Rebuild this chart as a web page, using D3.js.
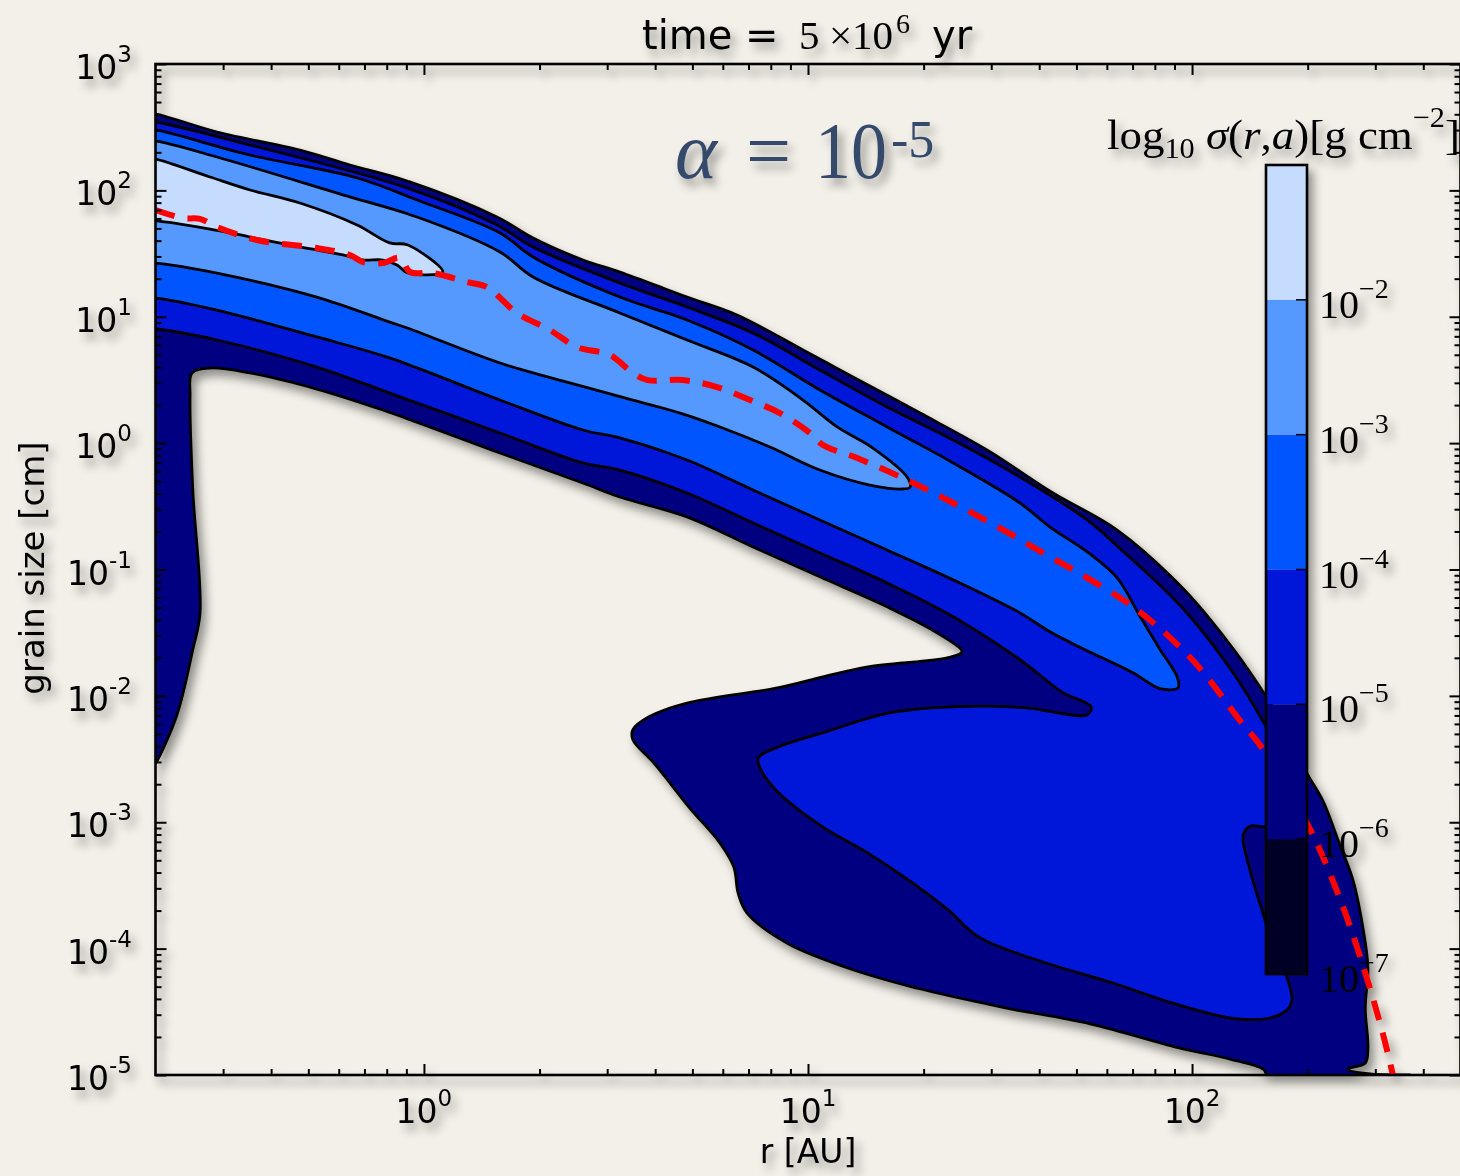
<!DOCTYPE html>
<html><head><meta charset="utf-8">
<script src="https://cdn.jsdelivr.net/npm/d3@7"></script>
<style>
body{margin:0;background:#f2efe8;}
svg{display:block;}
</style>
</head><body>
<svg id="chart" width="1460" height="1176"></svg>
<script>
// ---------------- DATA ----------------
// Contour levels of sigma(r,a) [g cm^-2] and their fill colours
const levels = [1e-7, 1e-6, 1e-5, 1e-4, 1e-3, 1e-2, 1e-1];
const levelColors = ["#000028", "#000080", "#0014d8", "#0055ff", "#5599ff", "#c6dcfe"];
const colorbarTickValues = [1e-7, 1e-6, 1e-5, 1e-4, 1e-3, 1e-2];

// Axis ticks
const xMajorTicks = [1, 10, 100];
const xMinorTicks = [0.3,0.4,0.5,0.6,0.7,0.8,0.9, 2,3,4,5,6,7,8,9, 20,30,40,50,60,70,80,90, 200,300,400];
const yMajorTicks = [1e-5,1e-4,1e-3,1e-2,1e-1,1,10,100,1000];
const yMinorTicks = [];
[-5,-4,-3,-2,-1,0,1,2].forEach(e => { for (let m = 2; m <= 9; m++) yMinorTicks.push(m * Math.pow(10, e)); });

// Filled contour regions, points are [log10 r/AU, log10 a/cm]
const regionAbove1e6 = [[-0.699,2.604],[-0.539,2.462],[-0.323,2.319],[-0.193,2.201],[-0.044,2.074],[0.190,1.789],[0.284,1.623],[0.414,1.449],[0.510,1.354],[0.685,1.156],[0.815,1.014],[0.987,0.737],[1.117,0.523],[1.292,0.238],[1.466,-0.054],[1.638,-0.395],[1.805,-0.688],[1.977,-1.153],[2.107,-1.627],[2.193,-2.006],[2.255,-2.325],[2.299,-2.611],[2.341,-2.833],[2.385,-3.181],[2.419,-3.458],[2.445,-3.837],[2.458,-4.153],[2.451,-4.470],[2.458,-4.787],[2.451,-4.905],[2.404,-4.953],[2.464,-4.992],[2.568,-5.0],[2.198,-5.0],[2.185,-4.953],[2.099,-4.874],[1.969,-4.787],[1.737,-4.597],[1.505,-4.462],[1.273,-4.304],[1.096,-4.145],[0.945,-3.956],[0.841,-3.718],[0.818,-3.561],[0.807,-3.355],[0.771,-3.165],[0.690,-2.880],[0.599,-2.531],[0.544,-2.347],[0.544,-2.267],[0.586,-2.165],[0.690,-2.054],[0.924,-1.935],[1.039,-1.849],[1.156,-1.770],[1.365,-1.698],[1.401,-1.651],[1.336,-1.501],[1.206,-1.295],[1.031,-1.058],[0.857,-0.822],[0.685,-0.584],[0.510,-0.426],[0.414,-0.316],[0.198,-0.078],[-0.107,0.262],[-0.279,0.428],[-0.453,0.555],[-0.557,0.594],[-0.604,0.555],[-0.609,0.373],[-0.602,-0.363],[-0.583,-1.343],[-0.602,-1.635],[-0.643,-2.149],[-0.695,-2.515],[-0.699,-2.531],[-0.72,-2.531],[-0.72,2.604]];

const regionAbove1e5 = [[-0.699,2.541],[-0.453,2.359],[-0.044,2.019],[0.190,1.726],[0.284,1.552],[0.510,1.267],[0.685,1.077],[0.857,0.871],[1.031,0.578],[1.206,0.286],[1.378,0.025],[1.552,-0.268],[1.727,-0.608],[1.805,-0.814],[1.977,-1.311],[2.107,-1.817],[2.190,-2.228],[2.242,-2.507],[2.255,-2.825],[2.203,-3.031],[2.151,-3.031],[2.133,-3.102],[2.151,-3.379],[2.182,-3.694],[2.216,-4.011],[2.247,-4.225],[2.260,-4.407],[2.247,-4.486],[2.203,-4.549],[2.117,-4.557],[2.039,-4.509],[1.924,-4.407],[1.794,-4.272],[1.620,-4.114],[1.445,-3.909],[1.365,-3.694],[1.273,-3.482],[1.156,-3.244],[1.039,-3.039],[0.924,-2.769],[0.878,-2.587],[0.870,-2.492],[0.924,-2.402],[1.039,-2.291],[1.214,-2.133],[1.388,-2.085],[1.563,-2.093],[1.727,-2.149],[1.737,-2.085],[1.664,-1.975],[1.552,-1.714],[1.378,-1.374],[1.206,-1.106],[1.031,-0.869],[0.857,-0.632],[0.685,-0.395],[0.510,-0.213],[0.414,-0.157],[0.198,0.080],[-0.089,0.396],[-0.279,0.602],[-0.539,0.816],[-0.699,0.903],[-0.72,0.903],[-0.72,2.541]];

const regionAbove1e4 = [[-0.699,2.478],[-0.453,2.280],[-0.174,2.098],[-0.018,1.924],[0.198,1.663],[0.284,1.473],[0.510,1.156],[0.685,0.974],[0.857,0.737],[1.031,0.420],[1.206,0.128],[1.378,-0.157],[1.552,-0.474],[1.630,-0.664],[1.727,-0.861],[1.805,-1.066],[1.865,-1.374],[1.917,-1.635],[1.961,-1.849],[1.964,-1.935],[1.917,-1.943],[1.846,-1.817],[1.716,-1.627],[1.630,-1.493],[1.552,-1.343],[1.378,-1.082],[1.206,-0.845],[1.031,-0.608],[0.857,-0.371],[0.685,-0.134],[0.510,0.041],[0.414,0.104],[0.198,0.341],[-0.089,0.674],[-0.279,0.840],[-0.539,1.053],[-0.699,1.148],[-0.72,1.148],[-0.72,2.478]];

const regionAbove1e3 = [[-0.699,2.391],[-0.539,2.264],[-0.193,1.948],[-0.018,1.789],[0.198,1.512],[0.284,1.315],[0.510,1.030],[0.685,0.816],[0.857,0.602],[0.987,0.341],[1.076,0.128],[1.169,-0.039],[1.258,-0.268],[1.266,-0.348],[1.247,-0.363],[1.161,-0.332],[1.031,-0.213],[0.901,-0.031],[0.771,0.128],[0.667,0.238],[0.544,0.341],[0.372,0.483],[0.198,0.634],[-0.036,0.903],[-0.089,0.958],[-0.279,1.156],[-0.539,1.346],[-0.699,1.425],[-0.72,1.425],[-0.72,2.391]];

const regionAbove1e2 = [[-0.699,2.248],[-0.557,2.106],[-0.453,2.003],[-0.323,1.900],[-0.174,1.726],[-0.089,1.584],[-0.042,1.568],[0.049,1.354],[-0.042,1.346],[-0.070,1.410],[-0.107,1.449],[-0.159,1.449],[-0.211,1.489],[-0.323,1.552],[-0.453,1.631],[-0.557,1.694],[-0.699,1.758],[-0.72,1.758],[-0.72,2.248]];

// Red dashed curve, [log10 r/AU, log10 a/cm]
const driftLimit = [[-0.699,1.845],[-0.628,1.781],[-0.583,1.774],[-0.539,1.710],[-0.435,1.607],[-0.279,1.544],[-0.193,1.489],[-0.159,1.433],[-0.107,1.425],[-0.0625,1.465],[-0.036,1.354],[0.023,1.346],[0.112,1.275],[0.164,1.235],[0.242,1.030],[0.328,0.895],[0.398,0.761],[0.484,0.697],[0.544,0.555],[0.583,0.499],[0.674,0.499],[0.763,0.444],[0.849,0.341],[0.927,0.238],[1.005,0.080],[1.039,-0.015],[1.128,-0.118],[1.258,-0.292],[1.378,-0.474],[1.5,-0.672],[1.612,-0.869],[1.727,-1.066],[1.857,-1.319],[2.003,-1.722],[2.125,-2.196],[2.182,-2.410],[2.307,-3.054],[2.393,-3.670],[2.451,-4.193],[2.497,-4.676],[2.523,-5.0]];

const filledRegions = [
  {level: 1e-6, color: levelColors[1], pts: regionAbove1e6},
  {level: 1e-5, color: levelColors[2], pts: regionAbove1e5},
  {level: 1e-4, color: levelColors[3], pts: regionAbove1e4},
  {level: 1e-3, color: levelColors[4], pts: regionAbove1e3},
  {level: 1e-2, color: levelColors[5], pts: regionAbove1e2}
];

// ---------------- CHART ----------------
const svg = d3.select("#chart");
const L = 155.5, R = 1460.5, T = 64, B = 1075;
const x = d3.scaleLog().domain([0.2, 500]).range([L, R]);
const y = d3.scaleLog().domain([1e-5, 1e3]).range([B, T]);

const defs = svg.append("defs");
const f = defs.append("filter").attr("id", "shadow").attr("x", "-10%").attr("y", "-10%").attr("width", "130%").attr("height", "130%");
f.append("feDropShadow").attr("dx", 5).attr("dy", 7).attr("stdDeviation", 5)
  .attr("flood-color", "#000").attr("flood-opacity", 0.4);
defs.append("clipPath").attr("id", "plotclip").append("rect")
  .attr("x", L).attr("y", T).attr("width", R - L).attr("height", B - T);

svg.append("rect").attr("width", 1460).attr("height", 1176).attr("fill", "#f3f0e9");

const root = svg.append("g").attr("filter", "url(#shadow)");

const sans = "'DejaVu Sans', 'Bitstream Vera Sans', sans-serif";
const serif = "'Liberation Serif', 'DejaVu Serif', serif";

// contours
const plotG = root.append("g").attr("clip-path", "url(#plotclip)");
const poly = d3.line()
  .x(d => x(Math.pow(10, d[0])))
  .y(d => y(Math.pow(10, d[1])))
  .curve(d3.curveCatmullRomClosed.alpha(0.5));
plotG.selectAll("path.region").data(filledRegions).join("path")
  .attr("class", "region")
  .attr("d", d => poly(d.pts))
  .attr("fill", d => d.color)
  .attr("stroke", "#000").attr("stroke-width", 2.8).attr("stroke-linejoin", "round");

const line = d3.line()
  .x(d => x(Math.pow(10, d[0])))
  .y(d => y(Math.pow(10, d[1])))
  .curve(d3.curveCatmullRom.alpha(0.5));
plotG.append("path").attr("d", line(driftLimit))
  .attr("fill", "none").attr("stroke", "#ff0000").attr("stroke-width", 6)
  .attr("stroke-dasharray", "20,13");

// axes ticks (inward)
const axG = root.append("g");
function tickAxis(gen, vals, size, tx, ty) {
  const g = axG.append("g").attr("transform", `translate(${tx},${ty})`)
    .call(gen.tickValues(vals).tickSize(size).tickFormat(""));
  g.select(".domain").remove();
  g.selectAll(".tick line").attr("stroke", "#000").attr("stroke-width", 2);
}
tickAxis(d3.axisBottom(x), xMajorTicks, -11, 0, B);
tickAxis(d3.axisBottom(x), xMinorTicks, -6, 0, B);
tickAxis(d3.axisTop(x), xMajorTicks, -11, 0, T);
tickAxis(d3.axisTop(x), xMinorTicks, -6, 0, T);
tickAxis(d3.axisLeft(y), yMajorTicks, -11, L, 0);
tickAxis(d3.axisLeft(y), yMinorTicks, -6, L, 0);
tickAxis(d3.axisRight(y), yMajorTicks, -11, R, 0);
tickAxis(d3.axisRight(y), yMinorTicks, -6, R, 0);

axG.append("rect").attr("x", L).attr("y", T).attr("width", R - L).attr("height", B - T)
  .attr("fill", "none").attr("stroke", "#000").attr("stroke-width", 2.6);

// tick labels
const yl = root.append("g").attr("font-family", sans).attr("fill", "#000");
yMajorTicks.forEach(v => {
  const e = Math.round(Math.log10(v));
  const t = yl.append("text").attr("x", 132).attr("y", y(v) + 15)
    .attr("text-anchor", "end").attr("font-size", 33);
  t.append("tspan").text("10");
  t.append("tspan").attr("dy", -17).attr("font-size", 23).text(String(e));
});
xMajorTicks.forEach(v => {
  const e = Math.round(Math.log10(v));
  const t = yl.append("text").attr("x", x(v)).attr("y", 1123)
    .attr("text-anchor", "middle").attr("font-size", 33);
  t.append("tspan").text("10");
  t.append("tspan").attr("dy", -17).attr("font-size", 23).text(String(e));
});

// axis titles
yl.append("text").attr("x", 808).attr("y", 1163).attr("text-anchor", "middle")
  .attr("font-size", 33).text("r [AU]");
yl.append("text").attr("transform", "translate(44,568) rotate(-90)")
  .attr("text-anchor", "middle").attr("font-size", 34).text("grain size [cm]");

// title
const title = root.append("text").attr("y", 49).attr("font-size", 40).attr("fill", "#000");
title.append("tspan").attr("x", 642).attr("font-family", sans).text("time =");
title.append("tspan").attr("x", 799).attr("font-family", serif).attr("font-size", 41).text("5");
title.append("tspan").attr("x", 829).attr("font-family", serif).attr("font-size", 41).text("×10");
title.append("tspan").attr("x", 896).attr("y", 33).attr("font-family", serif).attr("font-size", 28).text("6");
title.append("tspan").attr("x", 932).attr("y", 49).attr("font-family", sans).text("yr");

// alpha annotation
const al = root.append("text").attr("y", 178).attr("fill", "#34496b").attr("font-family", serif).attr("font-size", 80);
al.append("tspan").attr("x", 675).attr("font-style", "italic").text("α");
al.append("tspan").attr("x", 746).text("=");
al.append("tspan").attr("x", 815).attr("textLength", 72).attr("lengthAdjust", "spacingAndGlyphs").text("10");
al.append("tspan").attr("x", 891).attr("y", 157).attr("font-size", 52).text("-5");

// colorbar
const cbX = 1266, cbW = 41;
const cy = d3.scaleLog().domain([1e-7, 1e-1]).range([974, 165]);
const cb = root.append("g");
cb.selectAll("rect.band").data(d3.range(levels.length - 1)).join("rect")
  .attr("class", "band")
  .attr("x", cbX).attr("width", cbW)
  .attr("y", i => cy(levels[i + 1])).attr("height", i => cy(levels[i]) - cy(levels[i + 1]))
  .attr("fill", i => levelColors[i]);
cb.selectAll("line.cbt").data(colorbarTickValues).join("line").attr("class", "cbt")
  .attr("x1", cbX + cbW - 11).attr("x2", cbX + cbW).attr("y1", d => cy(d)).attr("y2", d => cy(d))
  .attr("stroke", "#000").attr("stroke-width", 1.5);
cb.append("rect").attr("x", cbX).attr("y", 165).attr("width", cbW).attr("height", 974 - 165)
  .attr("fill", "none").attr("stroke", "#000").attr("stroke-width", 2.6);
colorbarTickValues.forEach(v => {
  const e = Math.round(Math.log10(v));
  const t = cb.append("text").attr("x", 1319).attr("y", cy(v) + 18)
    .attr("font-family", serif).attr("font-size", 40).attr("fill", "#000");
  t.append("tspan").text("10");
  t.append("tspan").attr("dy", -20).attr("font-size", 28).text("−" + Math.abs(e));
});
const cbl = cb.append("text").attr("x", 1107).attr("y", 149).attr("font-family", serif)
  .attr("font-size", 43).attr("fill", "#000")
  .attr("textLength", 353).attr("lengthAdjust", "spacingAndGlyphs");
cbl.append("tspan").text("log");
cbl.append("tspan").attr("dy", 9).attr("font-size", 29).text("10");
cbl.append("tspan").attr("dy", -9).text(" ");
cbl.append("tspan").attr("font-style", "italic").text("σ");
cbl.append("tspan").text("(");
cbl.append("tspan").attr("font-style", "italic").text("r");
cbl.append("tspan").text(",");
cbl.append("tspan").attr("font-style", "italic").text("a");
cbl.append("tspan").text(")[g cm");
cbl.append("tspan").attr("dy", -22).attr("font-size", 29).text("−2");
cbl.append("tspan").attr("dy", 22).text("]");
</script>
</body></html>
